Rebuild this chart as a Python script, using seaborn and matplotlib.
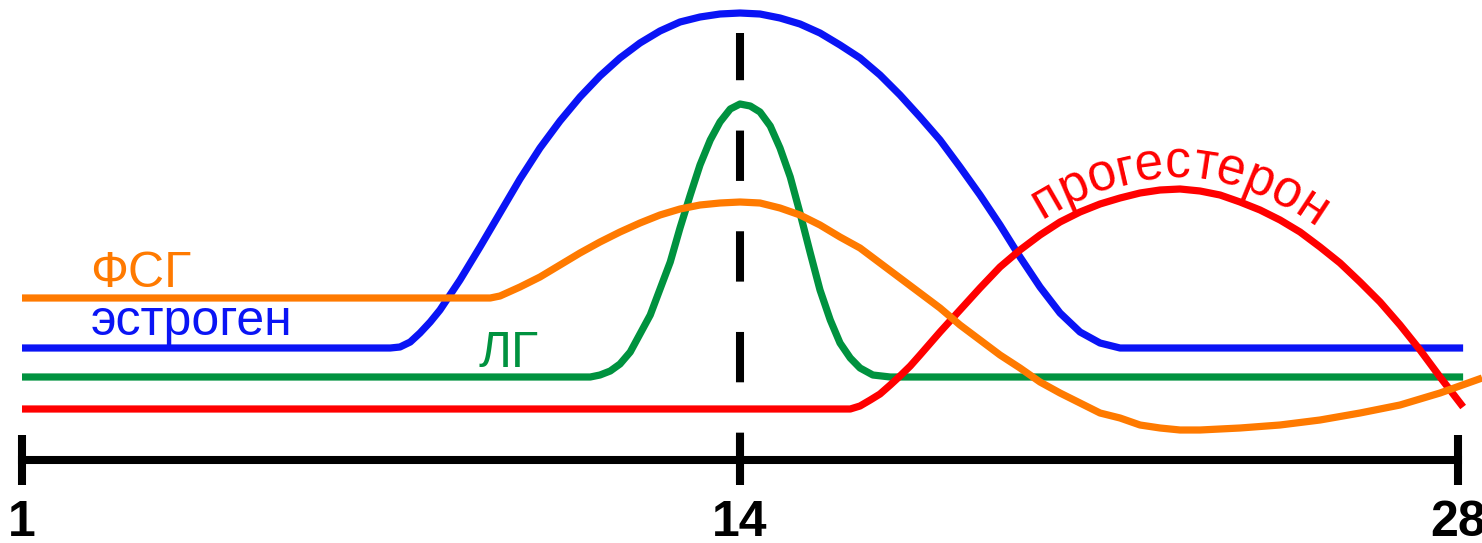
import numpy as np
import matplotlib
matplotlib.use("Agg")
import matplotlib.pyplot as plt
import seaborn as sns
from matplotlib.textpath import TextToPath
from matplotlib.font_manager import FontProperties

# cycle position (0 = day "1", 14 = mid-cycle, 28 = end) and relative hormone levels
estrogen_days = [0, 6.98, 7.18, 7.37, 7.57, 7.76, 7.96, 8.15, 8.54, 8.93, 9.32, 9.71,
                 10.10, 10.49, 10.88, 11.27, 11.66, 12.05, 12.44, 12.83, 13.22, 13.61,
                 14.00, 14.39, 14.78, 15.17, 15.56, 15.95, 16.34, 16.73, 17.12, 17.51,
                 17.90, 18.29, 18.68, 19.07, 19.46, 19.85, 20.24, 20.63, 21.02, 21.41,
                 28.10]
estrogen = [1.12, 1.12, 1.12, 1.13, 1.18, 1.27, 1.38, 1.50, 1.80, 2.13, 2.47, 2.81,
            3.12, 3.39, 3.63, 3.84, 4.02, 4.17, 4.29, 4.38, 4.43, 4.46,
            4.47, 4.46, 4.42, 4.36, 4.27, 4.15, 4.02, 3.85, 3.65, 3.43,
            3.20, 2.93, 2.65, 2.35, 2.03, 1.73, 1.47, 1.28, 1.17, 1.12,
            1.12]

fsh_days = [0, 9.13, 9.32, 9.71, 10.10, 10.49, 10.88, 11.27, 11.66, 12.05, 12.44, 12.83,
            13.22, 13.61, 14.00, 14.39, 14.78, 15.17, 15.56, 15.95, 16.34, 16.73,
            17.12, 17.51, 17.90, 18.29, 18.68, 19.07, 19.46, 19.85, 20.24, 20.63,
            21.02, 21.41, 21.80, 22.19, 22.58, 22.97, 23.75, 24.53, 25.31, 26.09,
            26.87, 27.65, 28.47]
fsh = [1.62, 1.62, 1.64, 1.73, 1.83, 1.95, 2.07, 2.18, 2.28, 2.37, 2.45, 2.51,
       2.55, 2.57, 2.58, 2.57, 2.52, 2.45, 2.35, 2.23, 2.12, 1.97,
       1.82, 1.67, 1.52, 1.35, 1.20, 1.05, 0.92, 0.78, 0.67, 0.57,
       0.47, 0.42, 0.35, 0.32, 0.30, 0.30, 0.32, 0.35, 0.40, 0.47,
       0.55, 0.67, 0.82]

lh_days = [0, 11.08, 11.27, 11.47, 11.66, 11.86, 12.25, 12.64, 12.83, 13.03, 13.22,
           13.42, 13.61, 13.81, 14.00, 14.20, 14.39, 14.59, 14.78, 14.98, 15.17,
           15.37, 15.56, 15.76, 15.95, 16.15, 16.34, 16.59, 16.93, 28.10]
lh = [0.83, 0.83, 0.85, 0.89, 0.96, 1.08, 1.45, 1.98, 2.32, 2.65, 2.95,
      3.20, 3.38, 3.51, 3.56, 3.54, 3.48, 3.34, 3.12, 2.83, 2.47,
      2.07, 1.70, 1.40, 1.17, 1.02, 0.92, 0.85, 0.83, 0.83]

prog_days = [0, 16.15, 16.34, 16.54, 16.73, 16.93, 17.12, 17.32, 17.51, 17.90, 18.29,
             18.68, 19.07, 19.46, 19.85, 20.24, 20.63, 21.02, 21.41, 21.80, 22.19,
             22.58, 22.97, 23.36, 23.75, 24.14, 24.53, 24.92, 25.31, 25.70, 26.09,
             26.48, 26.87, 27.26, 27.65, 28.10]
prog = [0.51, 0.51, 0.54, 0.60, 0.66, 0.75, 0.84, 0.94, 1.05, 1.28, 1.50,
        1.72, 1.93, 2.10, 2.25, 2.38, 2.48, 2.56, 2.62, 2.67, 2.70,
        2.71, 2.69, 2.65, 2.58, 2.50, 2.40, 2.28, 2.13, 1.97, 1.78,
        1.58, 1.35, 1.10, 0.83, 0.53]

tick_pos = [0, 14, 28]
tick_labels = ["1", "14", "28"]
ovulation = 14

BLUE = "#0A14F5"
ORANGE = "#FF7A00"
GREEN = "#00923F"
RED = "#FF0000"

sns.set_theme(style="white")
plt.rcParams["font.family"] = ["Liberation Sans", "DejaVu Sans"]

fig = plt.figure(figsize=(14.82, 5.43), dpi=100)
ax = fig.add_axes([0, 0, 1, 1])
ax.set_xlim(-0.429, 28.468)
ax.set_ylim(-0.83, 4.60)

series = [(estrogen_days, estrogen, BLUE),
          (lh_days, lh, GREEN),
          (prog_days, prog, RED),
          (fsh_days, fsh, ORANGE)]
for days, level, color in series:
    sns.lineplot(x=days, y=level, ax=ax, color=color, linewidth=5.2, sort=False,
                 estimator=None, solid_capstyle="butt", solid_joinstyle="round")

# dashed mid-cycle marker
ax.axvline(ovulation, ymin=0.1105, ymax=0.939, color="black", linewidth=5.8,
           dashes=(6.25, 6.25), zorder=1)

# axis
for side in ["top", "right", "left"]:
    ax.spines[side].set_visible(False)
ax.spines["bottom"].set_position(("data", 0))
ax.spines["bottom"].set_bounds(0, 28)
ax.spines["bottom"].set_linewidth(5.8)
ax.spines["bottom"].set_color("black")
ax.set_yticks([])
ax.set_xticks(tick_pos)
ax.set_xticklabels(tick_labels, fontweight="bold")
ax.tick_params(axis="x", bottom=True, direction="inout", length=36, width=5.8,
               color="black", labelcolor="black", labelsize=36, pad=10.5)
ax.set_xlabel("")
ax.set_ylabel("")

# straight labels
ax.text(1.33, 1.73, "ФСГ", color=ORANGE, fontsize=36, ha="left", va="baseline")
ax.text(1.33, 1.25, "эстроген", color=BLUE, fontsize=36, ha="left", va="baseline")
ax.text(8.90, 0.93, "ЛГ", color=GREEN, fontsize=36, ha="left", va="baseline")


# curved label along the progesterone line
def text_on_curve(xs, ys, text, start_px, offset_px, size, color):
    pts = ax.transData.transform(np.column_stack([xs, ys]))
    dx = np.gradient(pts[:, 0])
    dy = np.gradient(pts[:, 1])
    norm = np.hypot(dx, dy)
    nx, ny = -dy / norm, dx / norm
    ox = pts[:, 0] + nx * offset_px
    oy = pts[:, 1] + ny * offset_px
    seg = np.hypot(np.diff(ox), np.diff(oy))
    s = np.concatenate([[0], np.cumsum(seg)])
    ang = np.degrees(np.arctan2(dy, dx))
    s0 = np.interp(start_px, ox, s)
    fp = FontProperties(family="Liberation Sans", size=size)
    t2p = TextToPath()
    px = fig.dpi / 72.0

    def width(t):
        return t2p.get_text_width_height_descent(t, fp, ismath=False)[0] * px

    inv = ax.transData.inverted()
    for i, ch in enumerate(text):
        c = s0 + width(text[:i + 1]) - width(ch) / 2
        cx = np.interp(c, s, ox)
        cy = np.interp(c, s, oy)
        a = np.interp(c, s, ang)
        dxy = inv.transform((cx, cy))
        ax.text(dxy[0], dxy[1], ch, color=color, fontsize=size, ha="center",
                va="baseline", rotation=a, rotation_mode="anchor")


text_on_curve(prog_days, prog, "прогестерон", 1042, 12, 37, RED)

fig.savefig("out.png", dpi=100)
